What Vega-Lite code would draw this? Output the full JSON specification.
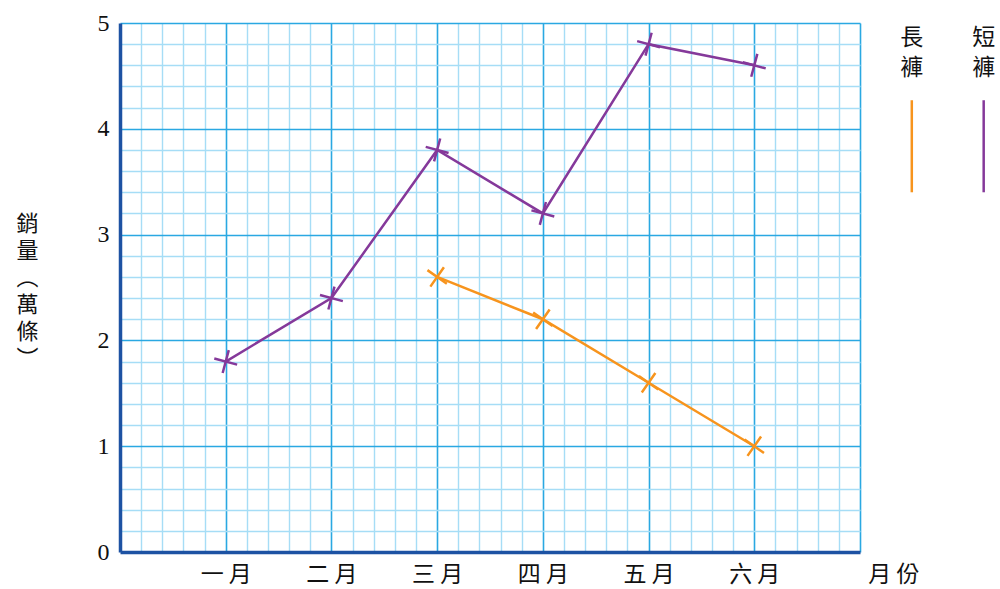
{
  "$schema": "https://vega.github.io/schema/vega-lite/v6.json",
  "width": 740,
  "height": 529,
  "autosize": {"type": "none"},
  "padding": {"left": 120, "top": 23, "right": 140, "bottom": 37},
  "background": "white",
  "config": {"view": {"stroke": null}},
  "datasets": {
    "sales": [
      {"month": 1, "v": 1.8, "s": "短褲"},
      {"month": 2, "v": 2.4, "s": "短褲"},
      {"month": 3, "v": 3.8, "s": "短褲"},
      {"month": 4, "v": 3.2, "s": "短褲"},
      {"month": 5, "v": 4.8, "s": "短褲"},
      {"month": 6, "v": 4.6, "s": "短褲"},
      {"month": 3, "v": 2.6, "s": "長褲"},
      {"month": 4, "v": 2.2, "s": "長褲"},
      {"month": 5, "v": 1.6, "s": "長褲"},
      {"month": 6, "v": 1.0, "s": "長褲"}
    ],
    "legend": [
      {"s": "長褲", "lx": 7.49, "y1": 4.27, "y2": 3.4, "ty": 4.96, "t": "長\n褲"},
      {"s": "短褲", "lx": 8.17, "y1": 4.27, "y2": 3.4, "ty": 4.96, "t": "短\n褲"}
    ],
    "xlab": [{"x": 7.32, "y": 0, "t": "月 份"}]
  },
  "layer": [
    {
      "data": {"name": "sales"},
      "mark": {"type": "line", "strokeWidth": 2.5},
      "encoding": {
        "x": {
          "field": "month", "type": "quantitative",
          "scale": {"domain": [0, 7], "nice": false, "zero": false},
          "axis": {
            "values": [0,0.2,0.4,0.6,0.8,1,1.2,1.4,1.6,1.8,2,2.2,2.4,2.6,2.8,3,3.2,3.4,3.6,3.8,4,4.2,4.4,4.6,4.8,5,5.2,5.4,5.6,5.8,6,6.2,6.4,6.6,6.8,7],
            "tickCount": 200,
            "grid": true,
            "gridColor": {"condition": {"test": "datum.value % 1 === 0", "value": "#2aa8e2"}, "value": "#a6ddf6"},
            "gridWidth": {"condition": {"test": "datum.value % 1 === 0", "value": 1.6}, "value": 1.4},
            "gridOpacity": {"condition": {"test": "datum.value === 0", "value": 0}, "value": 1},
            "ticks": false,
            "domainColor": "#1d52a3",
            "domainWidth": 3.5,
            "labelExpr": "indexof([1,2,3,4,5,6], datum.value) >= 0 ? ['一 月','二 月','三 月','四 月','五 月','六 月'][datum.value - 1] : ''",
            "labelFont": "Noto Sans CJK TC",
            "labelFontSize": 23,
            "labelColor": "#111111",
            "labelPadding": 11,
            "labelBaseline": "top",
            "labelOverlap": false,
            "labelFlush": false,
            "title": null
          }
        },
        "y": {
          "field": "v", "type": "quantitative",
          "scale": {"domain": [0, 5], "nice": false},
          "axis": {
            "values": [0,0.2,0.4,0.6,0.8,1,1.2,1.4,1.6,1.8,2,2.2,2.4,2.6,2.8,3,3.2,3.4,3.6,3.8,4,4.2,4.4,4.6,4.8,5],
            "tickCount": 200,
            "grid": true,
            "gridColor": {"condition": {"test": "datum.value % 1 === 0", "value": "#2aa8e2"}, "value": "#a6ddf6"},
            "gridWidth": {"condition": {"test": "datum.value % 1 === 0", "value": 1.6}, "value": 1.4},
            "gridOpacity": {"condition": {"test": "datum.value === 0", "value": 0}, "value": 1},
            "ticks": false,
            "domainColor": "#1d52a3",
            "domainWidth": 3.5,
            "labelExpr": "datum.value % 1 === 0 ? format(datum.value, 'd') : ''",
            "labelFont": "Liberation Serif",
            "labelFontSize": 24,
            "labelColor": "#111111",
            "labelPadding": 11,
            "labelOverlap": false,
            "labelFlush": false,
            "title": ["銷", "量", "︵", "萬", "條", "︶"],
            "titleAngle": 0,
            "titleFont": "Noto Sans CJK TC",
            "titleFontSize": 22,
            "titleFontWeight": "normal",
            "titleColor": "#111111",
            "titleLineHeight": 27,
            "titleAlign": "center",
            "titleBaseline": "top",
            "titleX": -93,
            "titleY": 190
          }
        },
        "color": {
          "field": "s", "type": "nominal",
          "scale": {"domain": ["長褲", "短褲"], "range": ["#f7941d", "#85399a"]},
          "legend": null
        },
        "detail": {"field": "s"}
      }
    },
    {
      "data": {"name": "sales"},
      "mark": {"type": "point", "shape": "M-1,0L1,0M0,-1L0,1", "filled": false, "strokeWidth": 2.5, "size": 560, "opacity": 1},
      "encoding": {
        "x": {"field": "month", "type": "quantitative"},
        "y": {"field": "v", "type": "quantitative"},
        "color": {"field": "s", "type": "nominal"},
        "angle": {"field": "s", "type": "nominal", "scale": {"domain": ["長褲", "短褲"], "range": [35, 15]}, "legend": null}
      }
    },
    {
      "data": {"name": "legend"},
      "mark": {"type": "rule", "strokeWidth": 2.5},
      "encoding": {
        "x": {"field": "lx", "type": "quantitative"},
        "y": {"field": "y1", "type": "quantitative"},
        "y2": {"field": "y2"},
        "color": {"field": "s", "type": "nominal"}
      }
    },
    {
      "data": {"name": "legend"},
      "mark": {"type": "text", "lineBreak": "\n", "font": "Noto Sans CJK TC", "fontSize": 23, "lineHeight": 30, "baseline": "top", "align": "center", "color": "#111111"},
      "encoding": {
        "x": {"field": "lx", "type": "quantitative"},
        "y": {"field": "ty", "type": "quantitative"},
        "text": {"field": "t"}
      }
    },
    {
      "data": {"name": "xlab"},
      "mark": {"type": "text", "font": "Noto Sans CJK TC", "fontSize": 23, "baseline": "top", "align": "center", "dy": 12, "color": "#111111"},
      "encoding": {
        "x": {"field": "x", "type": "quantitative"},
        "y": {"field": "y", "type": "quantitative"},
        "text": {"field": "t"}
      }
    }
  ]
}
